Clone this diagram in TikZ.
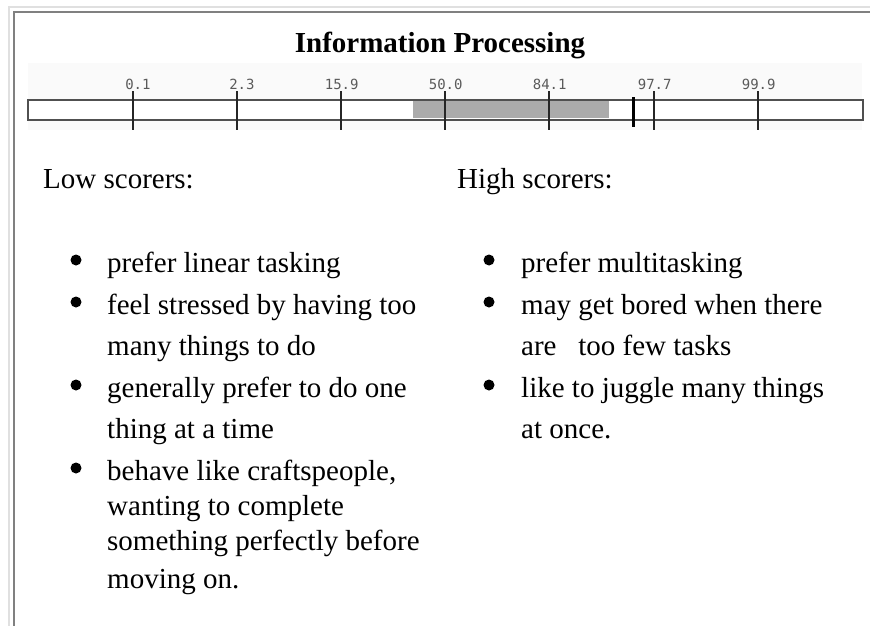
\documentclass[tikz,border=0pt]{standalone}
\usepackage{fontspec}
\setmainfont{Liberation Serif}
\newfontfamily\labfont{DejaVu Sans Mono}
\definecolor{framelight}{HTML}{E0E0E0}
\definecolor{framedark}{HTML}{808080}
\definecolor{barfill}{HTML}{ABABAB}
\definecolor{barline}{HTML}{505050}
\definecolor{labgray}{HTML}{5A5A5A}
\tikzset{
  body/.style={inner sep=0pt, anchor=base west, font=\fontsize{29}{35}\selectfont},
  titlestyle/.style={inner sep=0pt, anchor=base, font=\fontsize{29}{35}\selectfont\bfseries},
  ticklab/.style={inner sep=0pt, anchor=base west, text=labgray, font=\labfont\fontsize{14}{15}\selectfont},
  tickline/.style={draw=black!85, line width=1.1pt},
  bulletdot/.style={circle, fill=black, inner sep=0pt, minimum size=11pt},
}
\begin{document}
\begin{tikzpicture}[x=1pt,y=-1pt]
\useasboundingbox (0,0) rectangle (870,626);
\fill[white] (0,0) rectangle (870,626);
% frame
\draw[framelight, line width=2pt] (9,626) -- (9,7) -- (870,7);
\draw[framedark, line width=2pt] (14,626) -- (14,12) -- (870,12);
% title
\node[titlestyle] (title) at (440,53) {Information Processing};
% scale background
\fill[black!2] (28,63) rectangle (862,130);
% bar
\node[draw=barline, line width=1.3pt, fill=white, minimum width=834pt, minimum height=19pt, inner sep=0pt, anchor=north west] (bar) at (28,100) {};
\fill[barfill] (413,100.7) rectangle (609,118.3);
\draw[barline, line width=1.3pt] (bar.north west) rectangle (bar.south east);
% ticks
\foreach \n/\x/\a/\b in {t1/133/0/1, t2/237/2/3, t3/341/15/9, t4/445/50/0, t5/549/84/1, t6/654/97/7, t7/758/99/9}{
  \coordinate (\n top) at (\x,91);
  \coordinate (\n bot) at (\x,130);
  \draw[tickline] (\n top) -- (\n bot);
  \node[ticklab] (\n lab) at (\x+0.5,89) {\llap{\a}.\b};
}
% score marker
\coordinate (mtop) at (633,97);
\coordinate (mbot) at (633,127);
\draw[black, line width=3pt] (mtop) -- (mbot);
% headings
\node[body] (low) at (43,188) {Low scorers:};
\node[body] (high) at (457,188) {High scorers:};
% left list
\node[bulletdot] (lb1) at (76,260) {};
\node[body] (l1) at (107,272) {prefer linear tasking};
\node[bulletdot] (lb2) at (76,302) {};
\node[body] (l2a) at (107,314) {feel stressed by having too};
\node[body] (l2b) at (107,355) {many things to do};
\node[bulletdot] (lb3) at (76,385) {};
\node[body] (l3a) at (107,397) {generally prefer to do one};
\node[body] (l3b) at (107,438) {thing at a time};
\node[bulletdot] (lb4) at (76,468) {};
\node[body] (l4a) at (107,480) {behave like craftspeople,};
\node[body] (l4b) at (107,515) {wanting to complete};
\node[body] (l4c) at (107,550) {something perfectly before};
\node[body] (l4d) at (107,588) {moving on.};
% right list
\node[bulletdot] (rb1) at (489,260) {};
\node[body] (r1) at (521,272) {prefer multitasking};
\node[bulletdot] (rb2) at (489,302) {};
\node[body] (r2a) at (521,314) {may get bored when there};
\node[body] (r2b) at (521,355) {are\hspace{0.5em} too few tasks};
\node[bulletdot] (rb3) at (489,385) {};
\node[body] (r3a) at (521,397) {like to juggle many things};
\node[body] (r3b) at (521,438) {at once.};
\end{tikzpicture}
\end{document}
